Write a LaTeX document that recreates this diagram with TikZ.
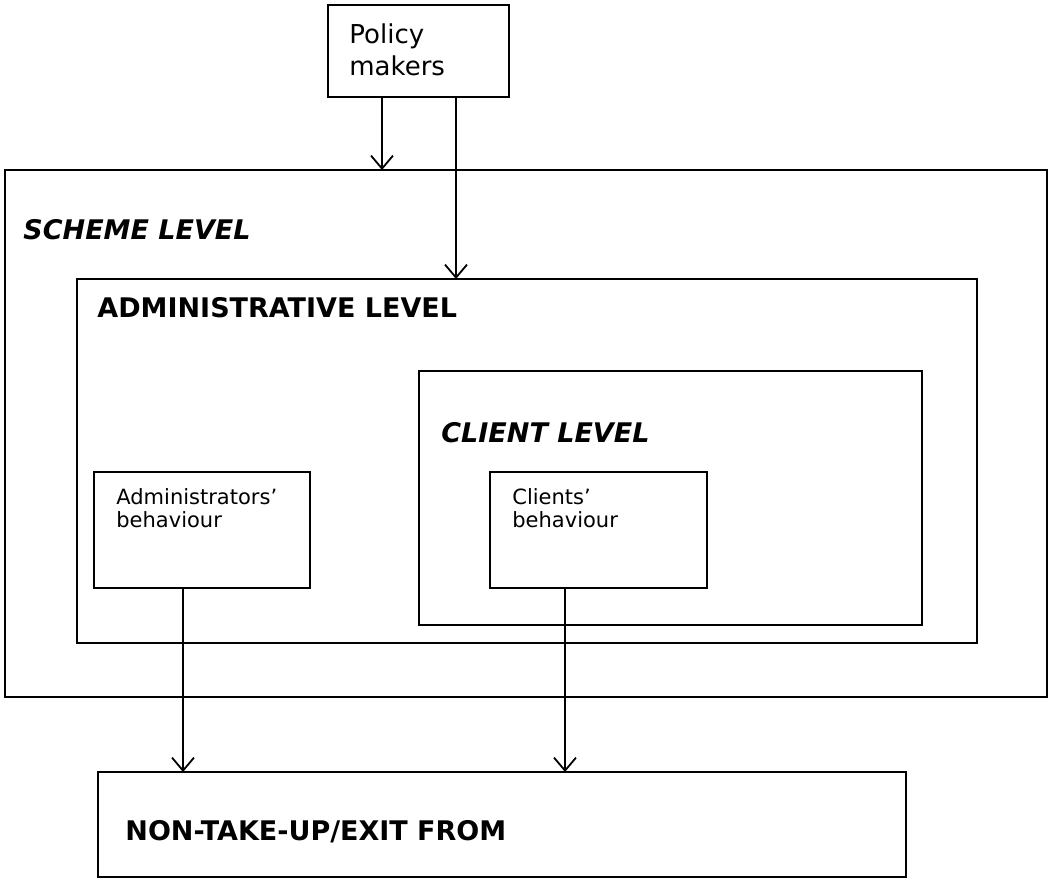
\documentclass[tikz,border=0pt]{standalone}
\usepackage{fontspec}
\setmainfont{DejaVu Sans}
\usetikzlibrary{arrows.meta, positioning, calc}

\begin{document}
\begin{tikzpicture}[
    x=0.5pt, y=-0.5pt,
    level/.style={draw, line width=0.9pt, inner sep=0pt, outer sep=0pt, anchor=north west},
    heading/.style={anchor=base west, inner sep=0pt, font=\fontsize{13.5}{16}\selectfont\bfseries},
    iheading/.style={heading, font=\fontsize{13.5}{16}\selectfont\bfseries\itshape},
    label/.style={anchor=north west, inner sep=0pt, align=left},
    flow/.style={-{Straight Barb[length=6.5pt, width=11pt]}, line width=0.9pt}
]
    \useasboundingbox (0,0) rectangle (1049,882);

    % Policy makers
    \node[level, minimum width=90.5pt, minimum height=46pt] (policy) at (328,5) {};
    \node[label, font=\fontsize{13}{16}\selectfont] (policytext) at (349,23) {Policy\\makers};

    % Levels
    \node[level, minimum width=521pt, minimum height=263.5pt] (scheme) at (5,170) {};
    \node[iheading] (schemetext) at (23,240) {SCHEME LEVEL};

    \node[level, minimum width=450pt, minimum height=182pt] (admin) at (77,279) {};
    \node[heading] (admintext) at (97,317) {ADMINISTRATIVE LEVEL};

    \node[level, minimum width=251.5pt, minimum height=127pt] (client) at (419,371) {};
    \node[iheading] (clienttext) at (441,442) {CLIENT LEVEL};

    % Behaviour boxes
    \node[level, minimum width=108pt, minimum height=58pt] (adminbeh) at (94,472) {};
    \node[label, font=\fontsize{10.5}{11.5}\selectfont] (adminbehtext) at (116,488) {Administrators'\\behaviour};

    \node[level, minimum width=108.5pt, minimum height=58pt] (clientbeh) at (490,472) {};
    \node[label, font=\fontsize{10.5}{11.5}\selectfont] (clientbehtext) at (512,488) {Clients'\\behaviour};

    % Outcome
    \node[level, minimum width=404pt, minimum height=52.5pt] (outcome) at (98,772) {};
    \node[heading] (outcometext) at (125,840) {NON-TAKE-UP/EXIT FROM};

    % Connectors
    \coordinate (p1) at ($(policy.south west)+(54,0)$);
    \coordinate (p2) at ($(policy.south west)+(128,0)$);
    \coordinate (a1) at ($(adminbeh.south west)+(89,0)$);
    \coordinate (c1) at ($(clientbeh.south west)+(75,0)$);

    \draw[flow] (p1) -- (p1 |- scheme.north);
    \draw[flow] (p2) -- (p2 |- admin.north);
    \draw[flow] (a1) -- (a1 |- outcome.north);
    \draw[flow] (c1) -- (c1 |- outcome.north);

\end{tikzpicture}
\end{document}
